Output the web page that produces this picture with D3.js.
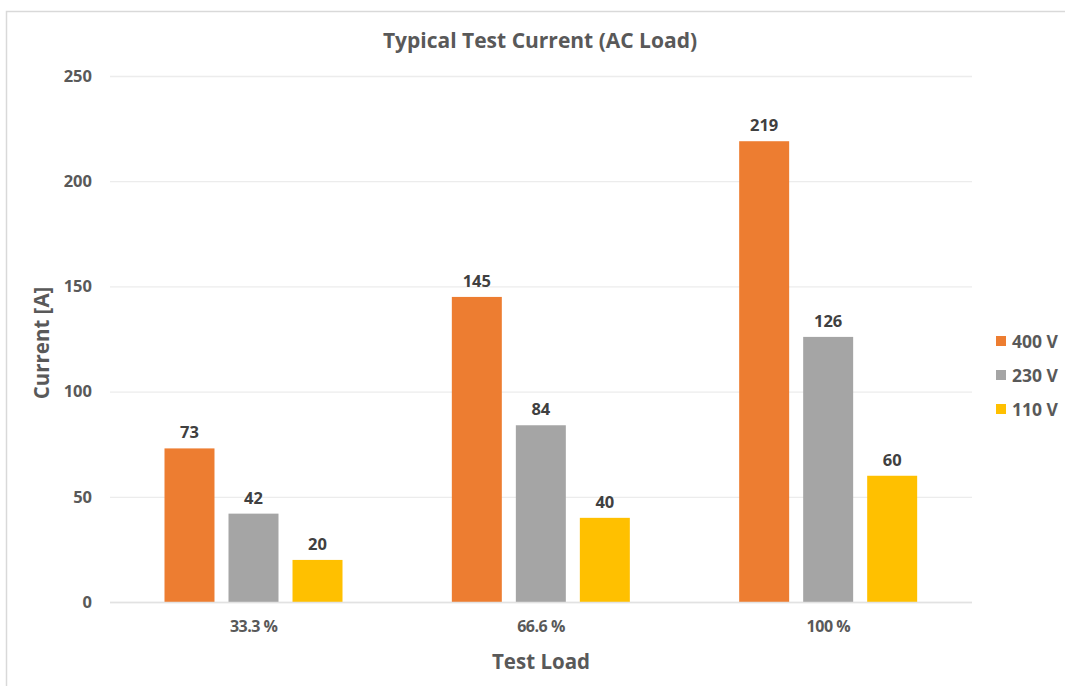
<!DOCTYPE html>
<html><head><meta charset="utf-8">
<script src="https://cdn.jsdelivr.net/npm/d3@7"></script>
<style>
html,body{margin:0;padding:0;background:#fff;}
svg{display:block;}
</style></head>
<body>
<svg id="chart" width="1065" height="686"></svg>
<script>
const categories = ["33.3 %", "66.6 %", "100 %"];
const seriesNames = ["400 V", "230 V", "110 V"];
const values400 = [73, 145, 219];
const values230 = [42, 84, 126];
const values110 = [20, 40, 60];
const yTicks = [0, 50, 100, 150, 200, 250];
const colors = ["#ED7D31", "#A5A5A5", "#FFC000"];

(function () {
const seriesValues = [values400, values230, values110];
const svg = d3.select("#chart");
const wide = "'Open Sans', 'DejaVu Sans', sans-serif";

// frame
svg.append("rect").attr("x", 6.5).attr("y", 11.5).attr("width", 1070).attr("height", 690)
  .attr("fill", "#fff").attr("stroke", "#d9d9d9").attr("stroke-width", 1.5);

const pL = 110, pR = 972, pT = 76, pB = 602;
const y = d3.scaleLinear().domain([0, 250]).range([pB, pT]);
const x0 = d3.scaleBand().domain(categories).range([pL, pR]).padding(0);
const x1 = d3.scaleBand().domain(seriesNames).range([54.5, 232.5]).paddingInner(0.219).paddingOuter(0);

// gridlines
const grid = d3.axisLeft(y).tickValues(yTicks).tickSize(-(pR - pL)).tickFormat("");
const g = svg.append("g").attr("transform", `translate(${pL},0)`).call(grid);
g.select(".domain").remove();
g.selectAll(".tick line").attr("stroke", "#ececec").attr("stroke-width", 1.3);

// y tick labels
const ya = svg.append("g").attr("transform", `translate(${pL},0)`)
  .call(d3.axisLeft(y).tickValues(yTicks).tickSize(0).tickPadding(18));
ya.select(".domain").remove();
ya.selectAll("text").style("font-family", wide).style("font-weight", "bold")
  .style("font-size", "16.5px").attr("fill", "#595959");

// bars
categories.forEach((c, ci) => {
  seriesNames.forEach((s, si) => {
    const v = seriesValues[si][ci];
    const bx = x0(c) + x1(s);
    svg.append("rect").attr("x", bx).attr("y", y(v)).attr("width", x1.bandwidth())
      .attr("height", y(0) - y(v)).attr("fill", colors[si]);
    svg.append("text").attr("x", bx + x1.bandwidth() / 2).attr("y", y(v) - 10)
      .attr("text-anchor", "middle").attr("font-family", wide).attr("font-weight", "bold")
      .attr("font-size", 16.5).attr("fill", "#404040").text(v);
  });
});

// x baseline
svg.append("line").attr("x1", pL).attr("x2", pR).attr("y1", pB + 0.5).attr("y2", pB + 0.5)
  .attr("stroke", "#e2e2e2").attr("stroke-width", 1.5);

// x axis labels
const xa = svg.append("g").attr("transform", `translate(0,${pB})`)
  .call(d3.axisBottom(x0).tickSize(0).tickPadding(19));
xa.select(".domain").remove();
xa.selectAll("text").style("font-family", wide).style("font-weight", "bold")
  .style("font-size", "16px").style("letter-spacing", "-0.5px").attr("fill", "#595959");

// title
svg.append("text").attr("x", 540).attr("y", 48).attr("text-anchor", "middle")
  .attr("font-family", wide).attr("font-weight", "bold").attr("font-size", 21)
  .attr("fill", "#595959").text("Typical Test Current (AC Load)");

// axis titles
svg.append("text").attr("x", 541).attr("y", 669).attr("text-anchor", "middle")
  .attr("font-family", wide).attr("font-weight", "bold").attr("font-size", 20.5)
  .attr("fill", "#595959").text("Test Load");
svg.append("text").attr("transform", "translate(49,343) rotate(-90)").attr("text-anchor", "middle")
  .attr("font-family", wide).attr("font-weight", "bold").attr("font-size", 20.5)
  .attr("fill", "#595959").text("Current [A]");

// legend
const lg = svg.append("g");
seriesNames.forEach((s, i) => {
  const ly = 341 + i * 34;
  lg.append("rect").attr("x", 996).attr("y", ly - 5).attr("width", 10).attr("height", 10).attr("fill", colors[i]);
  lg.append("text").attr("x", 1012).attr("y", ly + 6.5).attr("font-family", wide).attr("font-weight", "bold")
    .attr("font-size", 17.5).attr("fill", "#595959").text(s);
});
})();
</script>
</body></html>
